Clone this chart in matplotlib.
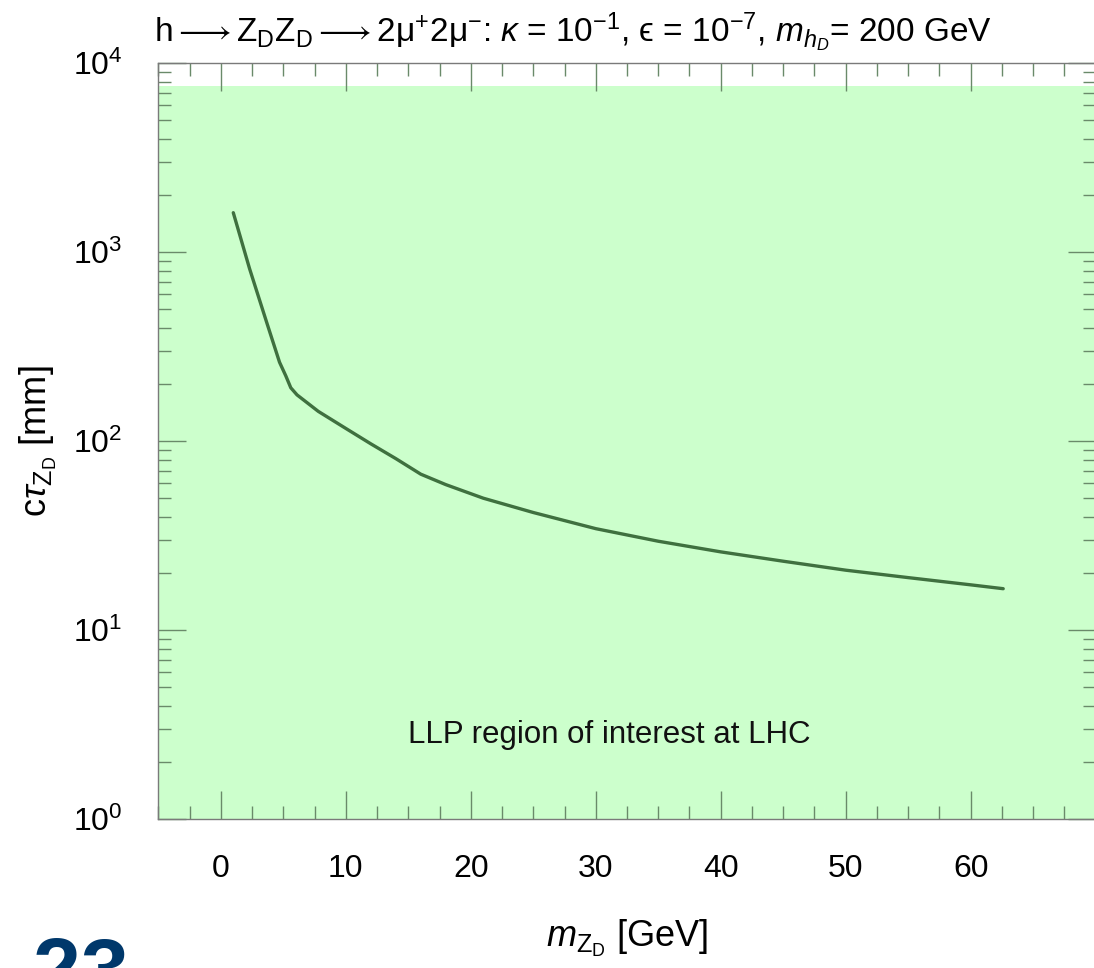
import matplotlib
matplotlib.use("Agg")
import matplotlib.pyplot as plt
from matplotlib.ticker import MultipleLocator, LogLocator, FixedLocator, NullFormatter

plt.rcParams['font.family'] = ['Liberation Sans', 'DejaVu Sans']
plt.rcParams['mathtext.fontset'] = 'custom'
plt.rcParams['mathtext.rm'] = 'Liberation Sans'
plt.rcParams['mathtext.it'] = 'Liberation Sans:italic'
plt.rcParams['mathtext.bf'] = 'Liberation Sans:bold'

# Data
m_zd = [1.0, 2.3, 3.7, 4.7, 5.2, 5.6, 6.1, 7.8, 10.0, 12.0, 14.0, 16.0, 18.0,
        21.0, 25.0, 30.0, 35.0, 40.0, 45.0, 50.0, 55.0, 60.0, 62.6]
ctau = [1620, 820, 420, 262, 222, 192, 176, 144, 117, 97, 81, 67, 59,
        50, 42, 34.5, 29.6, 26.0, 23.2, 20.8, 19.0, 17.4, 16.6]
region_bottom = 1.0
region_top = 7600.0
region_label = "LLP region of interest at LHC"
x_ticks = [0, 10, 20, 30, 40, 50, 60]

W, H = 1094, 968
fig = plt.figure(figsize=(W / 100, H / 100), dpi=100)
ax = fig.add_axes([158.3 / W, 1 - 819.3 / H, (1095.7 - 158.3) / W, (819.3 - 63.3) / H])

ax.set_yscale('log')
ax.set_xlim(-5, 70)
ax.set_ylim(1, 1e4)

ax.axhspan(region_bottom, region_top, color='#ccffcc', zorder=0, lw=0)
ax.plot(m_zd, ctau, color='#3f703f', lw=2.4, solid_capstyle='round',
        solid_joinstyle='round', zorder=3)

ax.text(31.1, 2.8, region_label, ha='center', va='center', fontsize=22.5, color='#111111')

ax.xaxis.set_major_locator(FixedLocator(x_ticks))
ax.xaxis.set_minor_locator(MultipleLocator(2.5))
ax.yaxis.set_minor_locator(LogLocator(base=10, subs=range(2, 10), numticks=20))
ax.yaxis.set_minor_formatter(NullFormatter())
ax.set_yticks([1, 10, 100, 1000, 10000])
ax.set_yticklabels([r'10$^{0}$', r'10$^{1}$', r'10$^{2}$', r'10$^{3}$', r'10$^{4}$'])

for s in ax.spines.values():
    s.set_color('#7a7a7a')
    s.set_linewidth(1.0)

ax.tick_params(which='both', direction='in', top=True, right=True, colors='#6a8a6a',
               labelcolor='black')
ax.tick_params(which='major', length=20, width=1.0, labelsize=23)
ax.tick_params(which='minor', length=9.5, width=1.0)
ax.tick_params(axis='x', which='major', pad=25)
ax.tick_params(axis='y', which='major', pad=26)

ax.set_xlabel(r'$m_{\mathrm{Z_D}}$ [GeV]', fontsize=26, labelpad=24)
ax.set_ylabel(r'c$\tau_{\mathrm{Z_D}}$ [mm]', fontsize=26, labelpad=10)

title = (r'h$\longrightarrow$Z$_\mathrm{D}$Z$_\mathrm{D}$$\longrightarrow$2μ$^{+}$2μ$^{-}$: '
         r'$\kappa$ = 10$^{\mathrm{-1}}$, ϵ = 10$^{-7}$, $m_{h_D}$= 200 GeV')
fig.text(573 / W, 1 - 32 / H, title, ha='center', va='center', fontsize=24)

fig.text(33 / W, -0.031, '23', ha='left', va='baseline', fontsize=62,
         fontweight='bold', color='#00386b')

fig.savefig('out.png', dpi=100)
